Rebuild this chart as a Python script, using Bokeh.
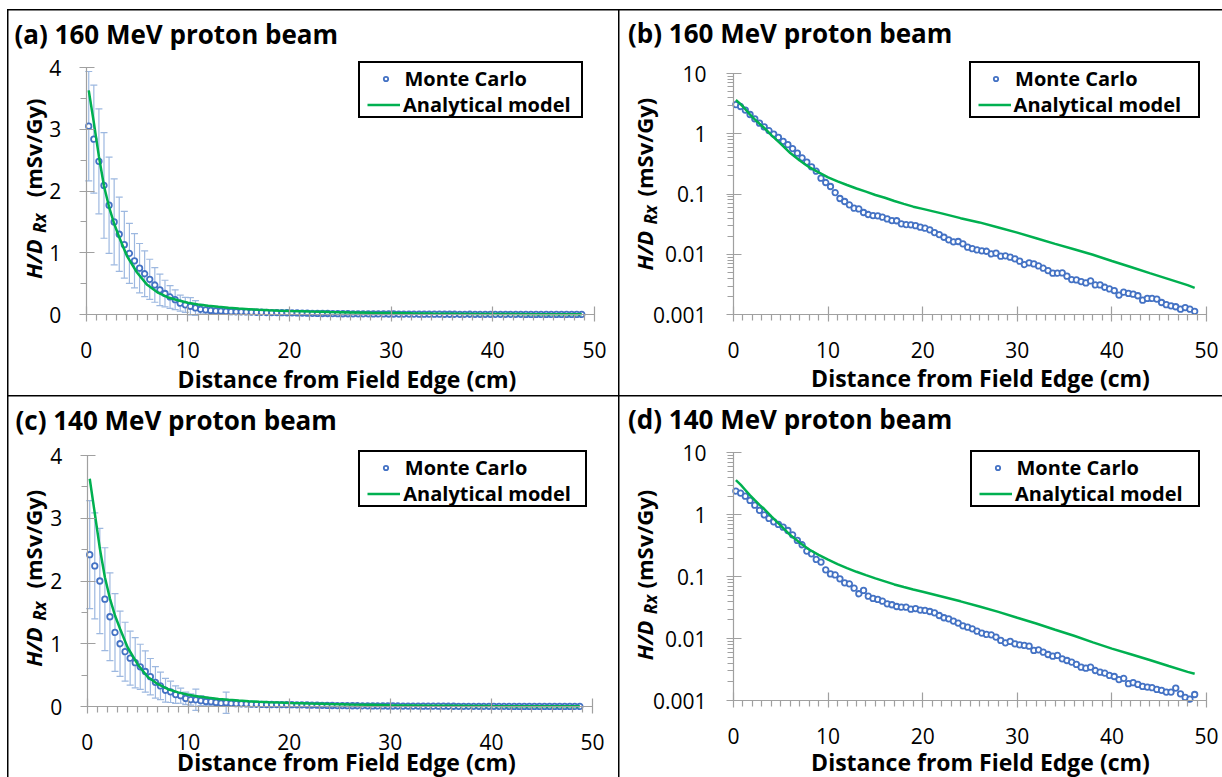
import math
from bokeh.plotting import figure
from bokeh.layouts import column, row
from bokeh.models import (Range1d, FixedTicker, CustomJSTickFormatter, Label, Legend, LegendItem,
                          Whisker, TeeHead, ColumnDataSource, Spacer)
from bokeh.embed import file_html
from bokeh.resources import INLINE

# ---------------- data ----------------
# Monte Carlo bin centres (cm from field edge), 0.5 cm bins
x_mc = [0.25 + 0.5 * i for i in range(98)]

mc_160 = [3.05, 2.84, 2.48, 2.09, 1.77, 1.50, 1.30, 1.13, 0.99, 0.87,
          0.75, 0.66, 0.57, 0.478, 0.40, 0.34, 0.284, 0.24, 0.184, 0.156,
          0.134, 0.106, 0.0847, 0.0755, 0.0665, 0.0585, 0.057, 0.0496, 0.046, 0.0442,
          0.0437, 0.0415, 0.0389, 0.0365, 0.0362, 0.0322, 0.0313, 0.0310, 0.0300, 0.0283,
          0.0273, 0.0256, 0.0231, 0.0214, 0.0193, 0.0175, 0.0162, 0.0164, 0.0150, 0.0132,
          0.0125, 0.0119, 0.0115, 0.0113, 0.0102, 0.0105, 0.00936, 0.00948, 0.00901, 0.00846,
          0.00773, 0.00681, 0.00726, 0.00698, 0.00647, 0.00592, 0.00541, 0.00489, 0.00489, 0.00495,
          0.00436, 0.00384, 0.00379, 0.00356, 0.00338, 0.00365, 0.00313, 0.00313, 0.00286, 0.00269,
          0.00252, 0.00212, 0.00237, 0.00226, 0.00220, 0.00207, 0.00175, 0.00187, 0.00187, 0.00182,
          0.00160, 0.00147, 0.00141, 0.00136, 0.00124, 0.00132, 0.00124, 0.00114]

mc_140 = [2.42, 2.24, 2.00, 1.71, 1.43, 1.18, 1.00, 0.873, 0.77, 0.698,
          0.632, 0.558, 0.475, 0.385, 0.328, 0.259, 0.234, 0.19, 0.172, 0.129,
          0.111, 0.107, 0.0925, 0.0797, 0.0768, 0.0653, 0.053, 0.060, 0.0485, 0.0445,
          0.0429, 0.0403, 0.0365, 0.0352, 0.033, 0.0322, 0.0322, 0.0299, 0.0305, 0.0289,
          0.0285, 0.0274, 0.0261, 0.0236, 0.0217, 0.0209, 0.0192, 0.0178, 0.0161, 0.0153,
          0.0144, 0.0132, 0.0123, 0.0117, 0.0115, 0.0106, 0.00933, 0.00855, 0.00899, 0.00824,
          0.00794, 0.00775, 0.00755, 0.00643, 0.00659, 0.00604, 0.00554, 0.00521, 0.00535, 0.00472,
          0.00443, 0.00417, 0.00382, 0.00346, 0.00333, 0.00346, 0.00305, 0.00287, 0.00277, 0.00254,
          0.00244, 0.00218, 0.00228, 0.00187, 0.00194, 0.00182, 0.00169, 0.00165, 0.00161, 0.00151,
          0.00146, 0.00137, 0.00137, 0.00159, 0.00128, 0.00112, 0.00105, 0.00125]

# error bars (half-width) for the first 30 Monte Carlo bins
err_160 = [0.885, 0.875, 0.85, 0.855, 0.78, 0.695, 0.60, 0.54, 0.485, 0.44,
           0.40, 0.37, 0.325, 0.28, 0.255, 0.215, 0.185, 0.16, 0.13, 0.12,
           0.14, 0.12, 0.08, 0.07, 0.06, 0.05, 0.05, 0.04, 0.04, 0.03]
err_140 = [0.86, 0.845, 0.84, 0.82, 0.70, 0.62, 0.52, 0.47, 0.43, 0.40,
           0.36, 0.33, 0.29, 0.25, 0.22, 0.19, 0.17, 0.14, 0.12, 0.10,
           0.09, 0.17, 0.08, 0.07, 0.06, 0.05, 0.05, 0.17, 0.04, 0.03]

x_model = [0.25, 0.75, 1.25, 1.75, 2.25, 2.75, 3.25, 4, 5, 6, 7, 8, 9, 10, 11, 12, 13, 14,
           15, 16, 17, 18, 19, 20, 22, 24, 26, 28, 30, 32, 34, 36, 38, 40, 42, 44, 46, 48, 48.75]
model_160 = [3.63, 3.11, 2.56, 2.08, 1.74, 1.47, 1.25, 0.95, 0.68, 0.48, 0.36, 0.28, 0.23, 0.19,
             0.163, 0.142, 0.124, 0.11, 0.097, 0.087, 0.077, 0.069, 0.062, 0.057, 0.048, 0.040,
             0.034, 0.028, 0.023, 0.0186, 0.0150, 0.0122, 0.0099, 0.0078, 0.0062, 0.0049, 0.0039,
             0.0031, 0.0028]
model_140 = [3.63, 3.08, 2.52, 2.06, 1.72, 1.45, 1.24, 0.94, 0.67, 0.47, 0.355, 0.275, 0.225, 0.188,
             0.16, 0.138, 0.12, 0.106, 0.094, 0.084, 0.075, 0.068, 0.062, 0.057, 0.048, 0.040,
             0.033, 0.027, 0.0217, 0.0175, 0.0139, 0.0111, 0.0087, 0.0069, 0.0056, 0.0045, 0.0036,
             0.0029, 0.0027]

x_ticks = [0, 10, 20, 30, 40, 50]
lin_ticks = [0, 1, 2, 3, 4]
log_ticks = [0.001, 0.01, 0.1, 1, 10]

titles = ["(a) 160 MeV proton beam", "(b) 160 MeV proton beam",
          "(c) 140 MeV proton beam", "(d) 140 MeV proton beam"]
x_title = "Distance from Field Edge (cm)"
y_title_parts = ["H/D", "Rx", "(mSv/Gy)"]
leg_labels = ["Monte Carlo", "Analytical model"]

# ---------------- style ----------------
BLUE = "#4472C4"
GREEN = "#00B050"
EBAR = "#9DB8E0"
AXC = "#A0A0A0"
FONT = "Open Sans"
MID = 0.388   # em offset between text centre and alphabetic baseline


def span_range(p_lo, p_hi, v_lo, v_hi, size):
    """Range so that value v_lo sits at pixel p_lo and v_hi at p_hi (pixels from start)."""
    s = (p_hi - p_lo) / (v_hi - v_lo)
    return v_lo - p_lo / s, v_hi + (size - p_hi) / s


def text_label(p, x, y, txt, size, style, align="left", angle=0.0):
    px = float(size.replace("px", ""))
    if angle:
        x = x - MID * px
    else:
        y = y + MID * px
    p.add_layout(Label(x=x, y=y, x_units="screen", y_units="screen", text=txt,
                       angle=angle, text_font=FONT, text_font_style=style,
                       text_font_size=size, text_color="black", text_align=align,
                       text_baseline="middle"))


def make_panel(log, g, mc, err, model, title):
    W, H = g["W"], g["H"]
    x0, x1 = span_range(g["px0"], g["px50"], 0, 50, W)
    if log:
        b0, b1 = span_range(H - g["pybot"], H - g["pytop"], -3, 1, H)
        yr = Range1d(10 ** b0, 10 ** b1)
    else:
        b0, b1 = span_range(H - g["pybot"], H - g["pytop"], 0, 4, H)
        yr = Range1d(b0, b1)
    p = figure(width=W, height=H, output_backend="svg", toolbar_location=None,
               x_range=Range1d(x0, x1), y_range=yr,
               y_axis_type="log" if log else "linear",
               min_border_left=0, min_border_right=0, min_border_top=0,
               min_border_bottom=0,
               styles={"outline": "2px solid black", "outline-offset": "-1px"})
    p.outline_line_color = None
    p.xgrid.visible = False
    p.ygrid.visible = False
    p.background_fill_color = "white"
    p.border_fill_color = "white"

    minor_x = [v for v in range(1, 50) if v % 10 != 0]
    p.xaxis.ticker = FixedTicker(ticks=x_ticks, minor_ticks=minor_x)
    p.xaxis.bounds = (0, 50)
    p.yaxis.fixed_location = 0
    if log:
        minor_y = [k * d for d in log_ticks[:-1] for k in range(2, 10)]
        p.yaxis.ticker = FixedTicker(ticks=log_ticks, minor_ticks=minor_y)
        p.yaxis.formatter = CustomJSTickFormatter(code="return tick.toString();")
        p.yaxis.major_label_standoff = 20
        p.yaxis.bounds = (0.001, 10)
        p.xaxis.fixed_location = 0.001
    else:
        p.yaxis.ticker = FixedTicker(ticks=lin_ticks, minor_ticks=[0.5, 1.5, 2.5, 3.5])
        p.yaxis.major_label_standoff = 18
        p.yaxis.bounds = (0, 4)
        p.xaxis.fixed_location = 0
    p.xaxis.major_label_standoff = 20
    for ax in (p.xaxis[0], p.yaxis[0]):
        ax.axis_line_color = AXC
        ax.axis_line_width = 1.2
        ax.major_tick_line_color = AXC
        ax.minor_tick_line_color = AXC
        ax.major_tick_line_width = 1.2
        ax.minor_tick_line_width = 1.2
        ax.major_tick_in = 8
        ax.major_tick_out = 7
        ax.minor_tick_in = 0
        ax.minor_tick_out = 6
        ax.major_label_text_font = FONT
        ax.major_label_text_font_size = "21px"
        ax.major_label_text_color = "black"

    if err is not None:
        n = len(err)
        src = ColumnDataSource(dict(x=x_mc[:n],
                                    upper=[mc[i] + err[i] for i in range(n)],
                                    lower=[mc[i] - err[i] for i in range(n)]))
        wk = Whisker(source=src, base="x", upper="upper", lower="lower",
                     line_color=EBAR, line_width=1.2, level="underlay",
                     upper_head=TeeHead(size=7, line_color=EBAR, line_width=1.2),
                     lower_head=TeeHead(size=7, line_color=EBAR, line_width=1.2))
        p.add_layout(wk)

    r_mc = p.scatter(x_mc, mc, marker="circle", size=5.5, line_color=BLUE, line_width=1.8,
                     fill_color="white")
    r_mod = p.line(x_model, model, line_color=GREEN, line_width=2.5)
    r_dummy = p.line([], [], line_alpha=0)

    # panel title, x axis title
    text_label(p, g["tx"], g["ty"], title, "26px", "bold")
    text_label(p, g["xx"], g["xy"], x_title, "23px", "bold", align="center")
    # y axis title pieces (rotated, reading bottom to top)
    yb = g["yb"]
    text_label(p, yb, g["y1"], y_title_parts[0], "22px", "bold italic", angle=math.pi / 2)
    text_label(p, yb + 5, g["y1"] + 46, y_title_parts[1], "17px", "bold italic",
               angle=math.pi / 2)
    text_label(p, yb, g["y3"], y_title_parts[2], "22px", "bold", angle=math.pi / 2)

    # legend: a framed box plus two single-entry legends
    bl, bt, bw = g["bl"], g["bt"], g["bw"]
    box = Legend(items=[LegendItem(label=" ", renderers=[r_dummy])],
                 location=(bl, bt - 53), padding=0, margin=0, spacing=0,
                 glyph_width=0, glyph_height=53, label_height=53, label_width=bw,
                 label_standoff=0, border_line_color="black", border_line_width=2,
                 border_line_alpha=1.0,
                 background_fill_color="white", background_fill_alpha=1.0,
                 label_text_font_size="8px")
    common = dict(padding=0, margin=0, spacing=0, border_line_color=None,
                  background_fill_alpha=0, glyph_height=27, label_height=27,
                  label_text_font=FONT, label_text_font_style="bold",
                  label_text_font_size="20px", label_text_color="black")
    l1 = Legend(items=[LegendItem(label=leg_labels[0], renderers=[r_mc])],
                location=(bl + 21.5, bt - 27), glyph_width=11, label_standoff=14, **common)
    l2 = Legend(items=[LegendItem(label=leg_labels[1], renderers=[r_mod])],
                location=(bl + 9, bt - 53), glyph_width=33, label_standoff=3, **common)
    p.add_layout(box)
    p.add_layout(l1)
    p.add_layout(l2)
    return p


# pixel geometry of each panel canvas (axis anchors in px from left / top;
# label positions in screen px from the bottom-left corner, y = text baseline)
geom_a = dict(W=611, H=386, px0=77.7, px50=586, pytop=57, pybot=304,
              tx=6, ty=352.3, xx=338.5, xy=9, yb=33, y1=117.6, y3=199.2,
              bl=350, bt=331, bw=221)
geom_b = dict(W=603, H=386, px0=114, px50=587, pytop=63, pybot=304.3,
              tx=8.5, ty=353, xx=361, xy=9.2, yb=33, y1=126, y3=200,
              bl=349.6, bt=331, bw=227)
geom_c = dict(W=611, H=381, px0=78.7, px50=584, pytop=59, pybot=310,
              tx=7, ty=347, xx=338, xy=6.5, yb=33, y1=110.7, y3=189,
              bl=350.3, bt=323, bw=225)
geom_d = dict(W=603, H=381, px0=114, px50=587, pytop=56.4, pybot=304,
              tx=8.5, ty=348.8, xx=361, xy=6.5, yb=33, y1=117.3, y3=189,
              bl=351, bt=323, bw=226)

pa = make_panel(False, geom_a, mc_160, err_160, model_160, titles[0])
pb = make_panel(True, geom_b, mc_160, None, model_160, titles[1])
pc = make_panel(False, geom_c, mc_140, err_140, model_140, titles[2])
pd = make_panel(True, geom_d, mc_140, None, model_140, titles[3])

layout = column(Spacer(height=10),
                row(Spacer(width=8), pa, pb),
                row(Spacer(width=8), pc, pd))
open("out.html", "w").write(file_html(layout, INLINE, title="Neutron dose"))
